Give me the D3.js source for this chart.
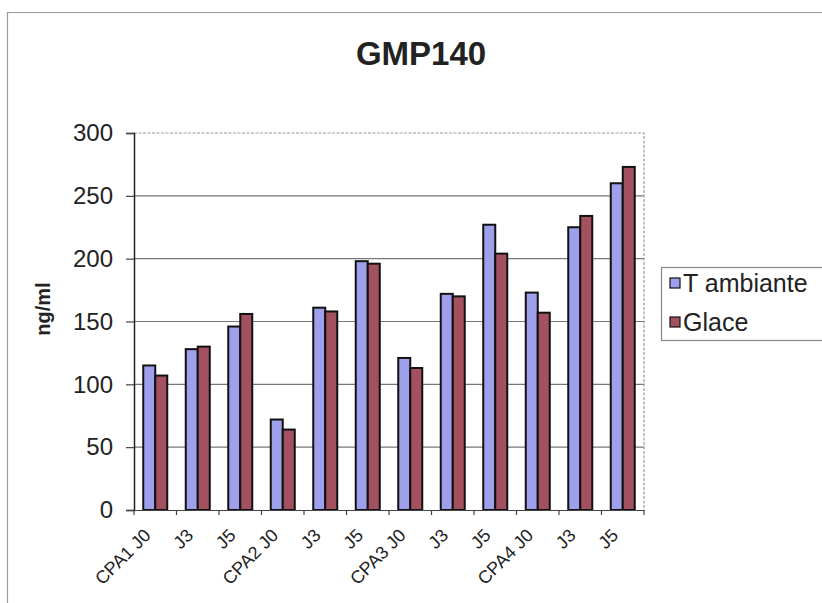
<!DOCTYPE html>
<html>
<head>
<meta charset="utf-8">
<script src="https://cdn.jsdelivr.net/npm/d3@7/dist/d3.min.js"></script>
<style>
  html, body { margin: 0; padding: 0; background: #fff; }
  svg { display: block; font-family: "Liberation Sans", Arial, sans-serif; }
</style>
</head>
<body>
<svg id="chart" width="822" height="603"></svg>
<script>
const categories = ["CPA1 J0", "J3", "J5", "CPA2 J0", "J3", "J5", "CPA3 J0", "J3", "J5", "CPA4 J0", "J3", "J5"];
const seriesNames = ["T ambiante", "Glace"];
const tAmbiante = [115, 128, 146, 72, 161, 198, 121, 172, 227, 173, 225, 260];
const glace = [107, 130, 156, 64, 158, 196, 113, 170, 204, 157, 234, 273];
const yTicks = [0, 50, 100, 150, 200, 250, 300];
const colors = ["#9ea0ec", "#a3505f"];

(function () {
const svg = d3.select("#chart");

// outer frame
svg.append("path")
  .attr("d", "M7.5,603 L7.5,12.5 L822,12.5")
  .attr("fill", "none").attr("stroke", "#999").attr("stroke-width", 1.2);

const pL = 134, pR = 644, pT = 133, pB = 510;

const x = d3.scaleBand().domain(d3.range(categories.length)).range([pL, pR]).paddingInner(0).paddingOuter(0);
const y = d3.scaleLinear().domain([0, 300]).range([pB, pT]);

// gridlines
svg.append("g").selectAll("line").data(yTicks.filter(t => t > 0 && t < 300)).join("line")
  .attr("x1", pL).attr("x2", pR)
  .attr("y1", d => y(d)).attr("y2", d => y(d))
  .attr("stroke", "#777").attr("stroke-width", 1.2);

// top & right plot border (dashed grey)
svg.append("path")
  .attr("d", `M${pL},${y(300)} L${pR},${y(300)} L${pR},${pB}`)
  .attr("fill", "none").attr("stroke", "#999").attr("stroke-width", 1.2)
  .attr("stroke-dasharray", "3,1.5");

// bars
const bw = 12;
const data = categories.map((c, i) => ({ i, vals: [tAmbiante[i], glace[i]] }));
const groups = svg.append("g").selectAll("g").data(data).join("g");
groups.selectAll("rect").data(d => d.vals.map((v, k) => ({ i: d.i, v, k }))).join("rect")
  .attr("x", d => x(d.i) + x.bandwidth() / 2 - bw + d.k * bw)
  .attr("y", d => y(d.v))
  .attr("width", bw)
  .attr("height", d => y(0) - y(d.v))
  .attr("fill", d => colors[d.k])
  .attr("stroke", "#111").attr("stroke-width", 2);

// y axis
const yAxis = d3.axisLeft(y).tickValues(yTicks).tickSize(8).tickPadding(13);
const ya = svg.append("g").attr("transform", `translate(${pL},0)`).call(yAxis);
ya.select(".domain").attr("stroke", "#222").attr("stroke-width", 1.5);
ya.selectAll(".tick line").attr("stroke", "#444").attr("stroke-width", 1.2);
ya.selectAll("text").attr("font-size", 24).attr("fill", "#222")
  .attr("font-family", "'Liberation Sans', Arial, sans-serif");

// x axis
const xAxis = d3.axisBottom(x).tickSize(0).tickFormat(i => categories[i]);
const xa = svg.append("g").attr("transform", `translate(0,${pB})`).call(xAxis);
xa.select(".domain").attr("stroke", "#444").attr("stroke-width", 1.2);
xa.selectAll(".tick text")
  .attr("font-size", 18).attr("fill", "#222")
  .attr("font-family", "'Liberation Sans', Arial, sans-serif")
  .attr("text-anchor", "end")
  .attr("transform", "translate(-8,22) rotate(-45)")
  .attr("dy", "0.35em").attr("y", 0);
// boundary ticks
svg.append("g").selectAll("line").data(d3.range(categories.length + 1)).join("line")
  .attr("x1", i => pL + i * x.bandwidth()).attr("x2", i => pL + i * x.bandwidth())
  .attr("y1", pB).attr("y2", pB + 5)
  .attr("stroke", "#444").attr("stroke-width", 1.2);

// title
svg.append("text").attr("x", 421).attr("y", 65).attr("text-anchor", "middle")
  .attr("font-size", 33).attr("font-weight", "bold").attr("fill", "#222").text("GMP140");

// y label
svg.append("text").attr("transform", "translate(50,309) rotate(-90)")
  .attr("text-anchor", "middle").attr("font-size", 20).attr("font-weight", "bold")
  .attr("fill", "#222").text("ng/ml");

// legend
const lg = svg.append("g");
lg.append("rect").attr("x", 661.5).attr("y", 267.5).attr("width", 170).attr("height", 73)
  .attr("fill", "#fff").attr("stroke", "#888").attr("stroke-width", 1.2);
const rows = [283, 322];
seriesNames.forEach((n, k) => {
  lg.append("rect").attr("x", 670).attr("y", rows[k] - 5).attr("width", 10).attr("height", 10)
    .attr("fill", colors[k]).attr("stroke", "#111").attr("stroke-width", 1.2);
  lg.append("text").attr("x", 683).attr("y", rows[k] + 8.5).attr("font-size", 25)
    .attr("fill", "#222").text(n);
});
})();
</script>
</body>
</html>
